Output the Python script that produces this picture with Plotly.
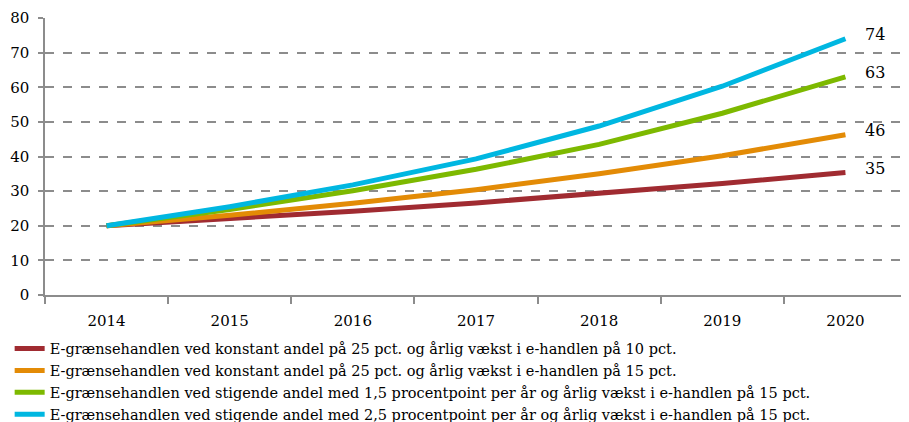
import plotly.graph_objects as go

years = ["2014", "2015", "2016", "2017", "2018", "2019", "2020"]
red_vals = [20, 22.0, 24.2, 26.6, 29.3, 32.2, 35.4]
orange_vals = [20, 23.0, 26.5, 30.4, 35.0, 40.2, 46.3]
green_vals = [20, 24.7, 30.1, 36.3, 43.5, 52.5, 63.0]
blue_vals = [20, 25.5, 31.8, 39.3, 48.8, 60.3, 74.0]
end_labels = ["35", "46", "63", "74"]

names = [
    "E-grænsehandlen ved konstant andel på 25 pct. og årlig vækst i e-handlen på 10 pct.",
    "E-grænsehandlen ved konstant andel på 25 pct. og årlig vækst i e-handlen på 15 pct.",
    "E-grænsehandlen ved stigende andel med 1,5 procentpoint per år og årlig vækst i e-handlen på 15 pct.",
    "E-grænsehandlen ved stigende andel med 2,5 procentpoint per år og årlig vækst i e-handlen på 15 pct.",
]
colors = ["#A02B31", "#E38B06", "#7DB900", "#00B7E1"]
series = [red_vals, orange_vals, green_vals, blue_vals]

FONT = "DejaVu Serif, Liberation Serif, serif"

fig = go.Figure()
for vals, name, col in zip(series, names, colors):
    fig.add_trace(go.Scatter(x=years, y=vals, mode="lines", name=name,
                             line=dict(color=col, width=5)))

last = len(years) - 1
for vals, lab in zip(series, end_labels):
    fig.add_annotation(x=last, y=vals[-1], xref="x", yref="y", text=lab, showarrow=False,
                       xanchor="left", yanchor="middle", xshift=18, yshift=4,
                       font=dict(family=FONT, size=16, color="#000"))

fig.update_layout(
    width=901, height=414,
    margin=dict(l=37, r=2, t=10, b=127, autoexpand=False),
    paper_bgcolor="white", plot_bgcolor="white",
    font=dict(family=FONT, size=15, color="#000"),
    showlegend=True,
    legend=dict(orientation="v", x=-0.041, y=-0.136, xanchor="left", yanchor="top",
                font=dict(family=FONT, size=14.5, color="#000"),
                tracegroupgap=0, itemwidth=30, bgcolor="rgba(0,0,0,0)"),
    xaxis=dict(type="category", showgrid=False, showline=True, linecolor="#8c8c8c", linewidth=1.5,
               ticks="outside", tickson="boundaries", ticklen=7, tickcolor="#8c8c8c", tickwidth=1.5,
               tickfont=dict(family=FONT, size=15), range=[-0.5, 6.5], ticklabelstandoff=11,
               automargin=False),
    yaxis=dict(range=[0, 80], dtick=10, showgrid=True, gridcolor="#8c8c8c", griddash="dash", gridwidth=1.5,
               showline=True, linecolor="#8c8c8c", linewidth=1.5, ticks="outside", ticklen=5,
               tickcolor="#8c8c8c", tickwidth=1.5, zeroline=False, automargin=False,
               ticklabelstandoff=6, tickfont=dict(family=FONT, size=15)),
)

fig.write_html("out.html")
